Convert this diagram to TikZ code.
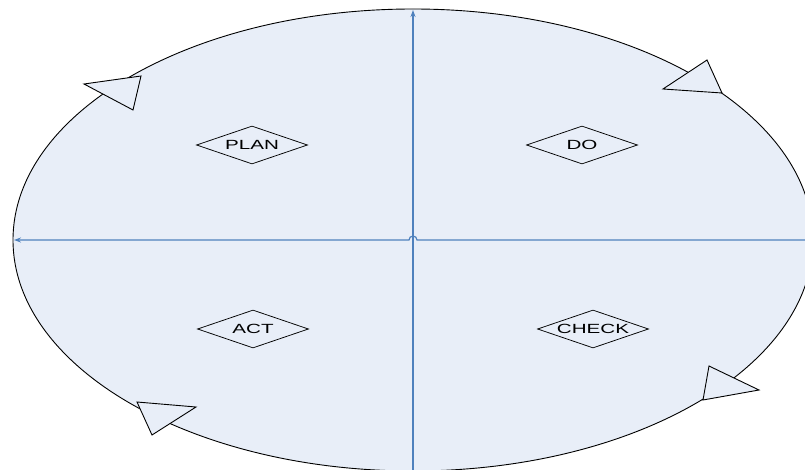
\documentclass[tikz,border=0pt]{standalone}
\usepackage{fontspec}
\setmainfont{Liberation Sans}
\newfontfamily\widefont[FakeStretch=1.55]{Liberation Sans}
\usetikzlibrary{shapes.geometric,arrows.meta}
\definecolor{fillblue}{HTML}{E8EEF8}
\definecolor{lineblue}{HTML}{4F81BD}
\newcommand\phtext[1]{\smash{\raisebox{-4.7pt}{\makebox[0pt]{#1}}}}
\begin{document}
\begin{tikzpicture}[x=1pt,y=-1pt,
  phase/.style={diamond,draw=black,line width=0.75pt,fill=fillblue,
    minimum width=111pt,minimum height=38pt,inner sep=0pt,
    font=\widefont\fontsize{13.3}{14}\selectfont},
  cyc/.style={draw=black,line width=0.9pt,fill=fillblue,line join=miter},
  axis/.style={draw=lineblue,line width=1.2pt,-{Stealth[length=7pt,width=5pt]}}]
\useasboundingbox (0,0) rectangle (805,470);
\clip (0,0) rectangle (805,470);
\fill[white] (0,0) rectangle (805,470);
\draw[fill=fillblue,line width=0.9pt] (413,240) ellipse [x radius=400, y radius=231];
% axes
\coordinate (vb) at (413,472);
\coordinate (vt) at (413,10);
\coordinate (hr) at (806,240);
\coordinate (hl) at (14,240);
\coordinate (hopR) at (417,240);
\draw[axis] (vb) -- (vt);
\draw[axis] (hr) -- (hopR) arc[start angle=0,end angle=-180,radius=4] -- (hl);
% cycle arrowheads
\draw[cyc] (84,84) -- (141,76) -- (133,110) -- cycle;
\draw[cyc] (663,89) -- (707,60) -- (722,93) -- cycle;
\draw[cyc] (709,366) -- (759,390) -- (703,400) -- cycle;
\draw[cyc] (137,402) -- (196,407) -- (152,435) -- cycle;
% phases
\node[phase] (plan) at (252,145) {\phtext{PLAN}};
\node[phase] (do) at (582,145) {\phtext{DO}};
\node[phase] (act) at (253,329) {\phtext{ACT}};
\node[phase] (check) at (593,329) {\phtext{CHECK}};
\end{tikzpicture}
\end{document}
